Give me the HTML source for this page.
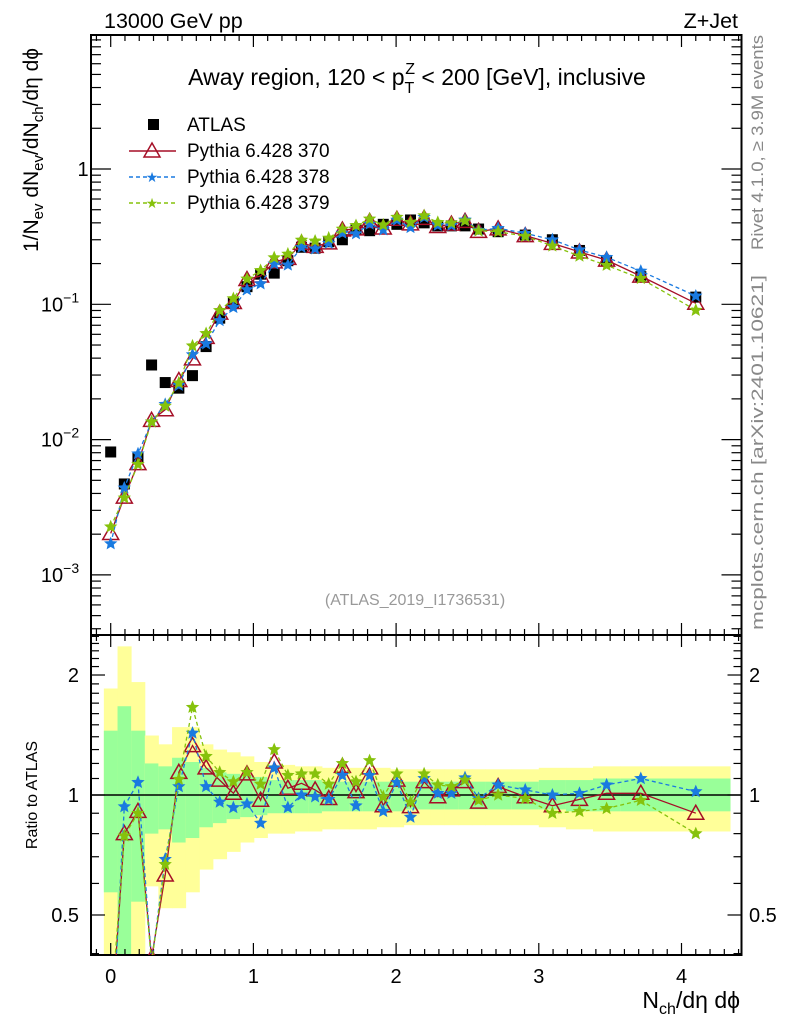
<!DOCTYPE html>
<html><head><meta charset="utf-8"><style>
html,body{margin:0;padding:0;background:#fff;}
svg{display:block;font-family:"Liberation Sans",sans-serif;}
</style></head><body>
<svg id="chart" width="786" height="1024" viewBox="0 0 786 1024" xmlns="http://www.w3.org/2000/svg">
<rect width="786" height="1024" fill="#fff"/>
<g id="bands"></g>
<g id="grid"></g>
<g id="series"></g>
<text x="104" y="28" font-size="21.5">13000 GeV pp</text>
<text x="738" y="28" font-size="21.5" text-anchor="end">Z+Jet</text>
<text x="417" y="85" font-size="23" text-anchor="middle">Away region, 120 &lt; p<tspan font-size="16" dy="8">T</tspan><tspan font-size="16" dx="-9" dy="-19">Z</tspan><tspan dy="11"> &lt; 200 [GeV], inclusive</tspan></text>
<text x="415" y="605" font-size="16" fill="#999" text-anchor="middle">(ATLAS_2019_I1736531)</text>
<text transform="translate(763,250) rotate(-90)" font-size="17" fill="#888" textLength="215" lengthAdjust="spacingAndGlyphs">Rivet 4.1.0, ≥ 3.9M events</text>
<text transform="translate(763,630) rotate(-90)" font-size="17" fill="#888" textLength="355" lengthAdjust="spacingAndGlyphs">mcplots.cern.ch [arXiv:2401.10621]</text>
<text transform="translate(38,150) rotate(-90)" font-size="21" text-anchor="middle">1/N<tspan font-size="15" dy="5">ev</tspan><tspan dy="-5"> dN</tspan><tspan font-size="15" dy="5">ev</tspan><tspan dy="-5">/dN</tspan><tspan font-size="15" dy="5">ch</tspan><tspan dy="-5">/dη dϕ</tspan></text>
<text transform="translate(37,795) rotate(-90)" font-size="16" text-anchor="middle">Ratio to ATLAS</text>
<text x="740" y="1008" font-size="23" text-anchor="end">N<tspan font-size="16" dy="6">ch</tspan><tspan dy="-6">/dη dϕ</tspan></text>
<g id="legend">
 <rect x="148" y="119" width="11" height="11" fill="#000"/>
 <text x="187" y="131" font-size="19">ATLAS</text>
 <line x1="129" y1="151" x2="176" y2="151" stroke="#a50f27" stroke-width="1.5"/>
 <polygon points="152,143 160,157 144,157" fill="none" stroke="#a50f27" stroke-width="1.5"/>
 <text x="187" y="157" font-size="19">Pythia 6.428 370</text>
 <line x1="129" y1="177" x2="176" y2="177" stroke="#1a7ae0" stroke-width="1.5" stroke-dasharray="4,3"/>
 <text x="152" y="182" font-size="14" fill="#1a7ae0" text-anchor="middle">★</text>
 <text x="187" y="183" font-size="19">Pythia 6.428 378</text>
 <line x1="129" y1="203" x2="176" y2="203" stroke="#86c20c" stroke-width="1.5" stroke-dasharray="4,3"/>
 <text x="152" y="208" font-size="14" fill="#86c20c" text-anchor="middle">★</text>
 <text x="187" y="209" font-size="19">Pythia 6.428 379</text>
</g>
</svg>
<script>
const xCenters=[0,0.0955,0.191,0.2865,0.382,0.4775,0.573,0.6685,0.764,0.8595,0.955,1.0505,1.146,1.2415,1.337,1.4325,1.528,1.6235,1.719,1.8145,1.91,2.0055,2.101,2.1965,2.292,2.3875,2.483,2.578,2.715,2.905,3.095,3.285,3.475,3.715,4.10];
const binEdges=[-0.048,0.048,0.143,0.239,0.334,0.43,0.525,0.621,0.716,0.812,0.907,1.003,1.098,1.194,1.289,1.385,1.48,1.576,1.671,1.767,1.862,1.958,2.053,2.149,2.244,2.34,2.435,2.531,2.626,2.81,3.0,3.19,3.38,3.57,3.86,4.34];
const atlas=[0.0081,0.0047,0.0073,0.0356,0.0264,0.024,0.0297,0.0487,0.079,0.102,0.135,0.167,0.170,0.21,0.264,0.26,0.29,0.30,0.354,0.35,0.39,0.39,0.42,0.40,0.38,0.38,0.38,0.36,0.344,0.325,0.30,0.25,0.21,0.16,0.113];
const ratio370=[0.25,0.80,0.91,0.39,0.63,1.14,1.33,1.17,1.09,1.01,1.13,0.97,1.21,1.04,1.07,1.03,0.98,1.18,1.02,1.17,0.94,1.09,0.935,1.08,0.99,1.03,1.08,0.96,1.05,0.99,0.94,0.975,1.01,1.01,0.90];
const ratio378=[0.21,0.935,1.076,0.38,0.69,1.05,1.43,1.05,0.96,0.93,0.95,0.85,1.17,0.93,1.0,0.99,0.975,1.12,0.94,1.12,0.91,1.076,0.88,1.10,1.01,1.01,1.105,0.98,1.06,1.03,1.0,1.01,1.06,1.10,1.02];
const ratio379=[0.28,0.79,0.90,0.38,0.67,1.095,1.66,1.25,1.14,1.08,1.14,1.065,1.30,1.12,1.13,1.13,1.065,1.20,1.08,1.22,0.99,1.13,0.96,1.13,1.06,1.05,1.09,0.97,1.0,0.98,0.90,0.91,0.925,0.97,0.80];
const yellowHi=[1.85,2.36,1.92,1.41,1.34,1.48,1.48,1.34,1.30,1.28,1.25,1.21,1.19,1.19,1.18,1.18,1.17,1.17,1.17,1.17,1.17,1.16,1.16,1.16,1.16,1.16,1.16,1.16,1.16,1.16,1.17,1.17,1.18,1.18,1.18];
const yellowLo=[0.3,0.3,0.3,0.59,0.52,0.52,0.57,0.65,0.69,0.72,0.76,0.78,0.80,0.80,0.81,0.81,0.82,0.82,0.82,0.82,0.83,0.83,0.84,0.84,0.84,0.84,0.84,0.84,0.84,0.84,0.83,0.82,0.81,0.81,0.81];
const greenHi=[1.45,1.67,1.45,1.20,1.18,1.24,1.21,1.17,1.14,1.13,1.12,1.11,1.09,1.09,1.09,1.09,1.08,1.08,1.08,1.08,1.08,1.08,1.08,1.08,1.08,1.08,1.08,1.08,1.08,1.08,1.09,1.09,1.10,1.10,1.10];
const greenLo=[0.57,0.3,0.54,0.80,0.82,0.76,0.78,0.83,0.85,0.87,0.88,0.89,0.90,0.90,0.90,0.90,0.91,0.91,0.91,0.91,0.91,0.91,0.92,0.92,0.92,0.92,0.92,0.92,0.92,0.92,0.92,0.91,0.91,0.91,0.91];
const xTicks=[0,1,2,3,4];
const mainTickLabels=[[0,"1"],[-1,"10","−1"],[-2,"10","−2"],[-3,"10","−3"]];
const ratioTicks=[2,1,0.5];

const NS="http://www.w3.org/2000/svg";
const L=91,R=741.5,MT=35,MB=635,RT=635,RB=955;
const X=v=>110.7+v*142.7;
const YM=v=>169-Math.log10(v)*135.3;
const YR=v=>795-Math.log10(v)*398.6;
function mk(tag,attrs,parent){const e=document.createElementNS(NS,tag);for(const k in attrs)e.setAttribute(k,attrs[k]);parent.appendChild(e);return e;}
const svg=document.getElementById('chart');
const bands=document.getElementById('bands');
const grid=document.getElementById('grid');
const series=document.getElementById('series');
const clamp=(y,a,b)=>Math.max(a,Math.min(b,y));

for(let i=0;i<xCenters.length;i++){
  const x1=X(binEdges[i]),x2=X(binEdges[i+1]);
  const yb=mk('rect',{x:x1,y:clamp(YR(yellowHi[i]),RT,RB),width:x2-x1+0.5,height:clamp(YR(yellowLo[i]),RT,RB)-clamp(YR(yellowHi[i]),RT,RB),fill:'#ffff99'},bands);
  
  
  const gb=mk('rect',{x:x1,y:clamp(YR(greenHi[i]),RT,RB),width:x2-x1+0.5,height:clamp(YR(greenLo[i]),RT,RB)-clamp(YR(greenHi[i]),RT,RB),fill:'#99ff99'},bands);
  
  
}
const ref=mk('line',{x1:L,x2:R,y1:YR(1),y2:YR(1),stroke:'#000','stroke-width':1.5},grid);



for(const [t,b,n] of [[MT,MB,'main-frame'],[RT,RB,'ratio-frame']]){
  const f=mk('rect',{x:L,y:t,width:R-L,height:b-t,fill:'none',stroke:'#000','stroke-width':2},grid);
  
  
}
for(let v=-0.1;v<=4.4;v+=0.1){
  const vv=Math.round(v*10)/10, major=Math.abs(vv-Math.round(vv))<1e-6, len=major?12:6;
  for(const [t,b] of [[MT,MB],[RT,RB]]){
    mk('line',{x1:X(vv),x2:X(vv),y1:b,y2:b-len,stroke:'#000','stroke-width':1.2},grid);
    mk('line',{x1:X(vv),x2:X(vv),y1:t,y2:t+len,stroke:'#000','stroke-width':1.2},grid);
  }
}
for(const v of xTicks){
  const t=mk('text',{x:X(v),y:983,'font-size':20,'text-anchor':'middle'},svg);t.textContent=v;
  
  
}
for(let d=-4;d<=0;d++){
  for(let m=1;m<10;m++){
    const y=YM(m*Math.pow(10,d));
    if(y<MT||y>MB)continue;
    const len=m===1?20:10;
    mk('line',{x1:L,x2:L+len,y1:y,y2:y,stroke:'#000','stroke-width':1.2},grid);
    mk('line',{x1:R,x2:R-len,y1:y,y2:y,stroke:'#000','stroke-width':1.2},grid);
  }
}
for(const tl of mainTickLabels){
  const y=YM(Math.pow(10,tl[0]));
  const t=mk('text',{x:tl.length>2?71:83,y:y+7,'font-size':20,'text-anchor':tl.length>2?'end':'middle'},svg);
  t.textContent=tl[1];
  
  
  if(tl.length>2){const s=mk('tspan',{'font-size':14,dy:-9},t);s.textContent=tl[2];t.setAttribute('x',60);t.setAttribute('text-anchor','middle');}
}
for(const v of [0.4,0.5,0.6,0.7,0.8,0.9,1,1.1,1.2,1.3,1.4,1.5,1.6,1.7,1.8,1.9,2,2.1,2.2,2.3,2.4,2.5]){
  const y=YR(v);if(y<RT||y>RB)continue;
  const len=(v===0.5||v===1||v===2)?14:8;
  mk('line',{x1:L,x2:L+len,y1:y,y2:y,stroke:'#000','stroke-width':1.2},grid);
  mk('line',{x1:R,x2:R-len,y1:y,y2:y,stroke:'#000','stroke-width':1.2},grid);
}
for(const v of ratioTicks){
  for(const [x,a] of [[79,'end'],[749,'start']]){
    const t=mk('text',{x:x,y:YR(v)+7,'font-size':20,'text-anchor':a},svg);t.textContent=v;
    
    
  }
}
const clip=mk('clipPath',{id:'cm'},svg);mk('rect',{x:L,y:MT,width:R-L,height:MB-MT},clip);
const clip2=mk('clipPath',{id:'cr'},svg);mk('rect',{x:L,y:RT,width:R-L,height:RB-RT},clip2);
const gm=mk('g',{'clip-path':'url(#cm)'},series);
const gr=mk('g',{'clip-path':'url(#cr)'},series);
function star(g,x,y,col,r){
  let p=[];for(let k=0;k<10;k++){const a=-Math.PI/2+k*Math.PI/5,rr=k%2?r*0.45:r;p.push((x+rr*Math.cos(a)).toFixed(1)+','+(y+rr*Math.sin(a)).toFixed(1));}
  const e=mk('polygon',{points:p.join(' '),fill:col,stroke:col,'stroke-width':0.8},g);
  
  
}
function tri(g,x,y,col){
  const e=mk('polygon',{points:`${x},${y-8} ${x+8},${y+6} ${x-8},${y+6}`,fill:'none',stroke:col,'stroke-width':1.5},g);
  
  
}
const mcs=[[ratio370,'#a50f27',null,'pythia-370'],[ratio378,'#1a7ae0','4,3','pythia-378'],[ratio379,'#86c20c','4,3','pythia-379']];
atlas.forEach((v,i)=>{
  const r=mk('rect',{x:X(xCenters[i])-5.5,y:YM(v)-5.5,width:11,height:11,fill:'#000'},gm);
  
  
});
for(const [rat,col,dash,name] of mcs){
  const mp=rat.map((r,i)=>X(xCenters[i]).toFixed(1)+','+YM(atlas[i]*r).toFixed(1)).join(' ');
  const rp=rat.map((r,i)=>X(xCenters[i]).toFixed(1)+','+YR(r).toFixed(1)).join(' ');
  const a={fill:'none',stroke:col,'stroke-width':1.3};if(dash)a['stroke-dasharray']=dash;
  const l1=mk('polyline',Object.assign({points:mp},a),gm);
  
  
  const l2=mk('polyline',Object.assign({points:rp},a),gr);
  
  
  rat.forEach((r,i)=>{
    const x=X(xCenters[i]);
    if(name==='pythia-370'){tri(gm,x,YM(atlas[i]*r),col);tri(gr,x,YR(r),col);}
    else{star(gm,x,YM(atlas[i]*r),col,6);star(gr,x,YR(r),col,6);}
  });
}
</script>
</body></html>
